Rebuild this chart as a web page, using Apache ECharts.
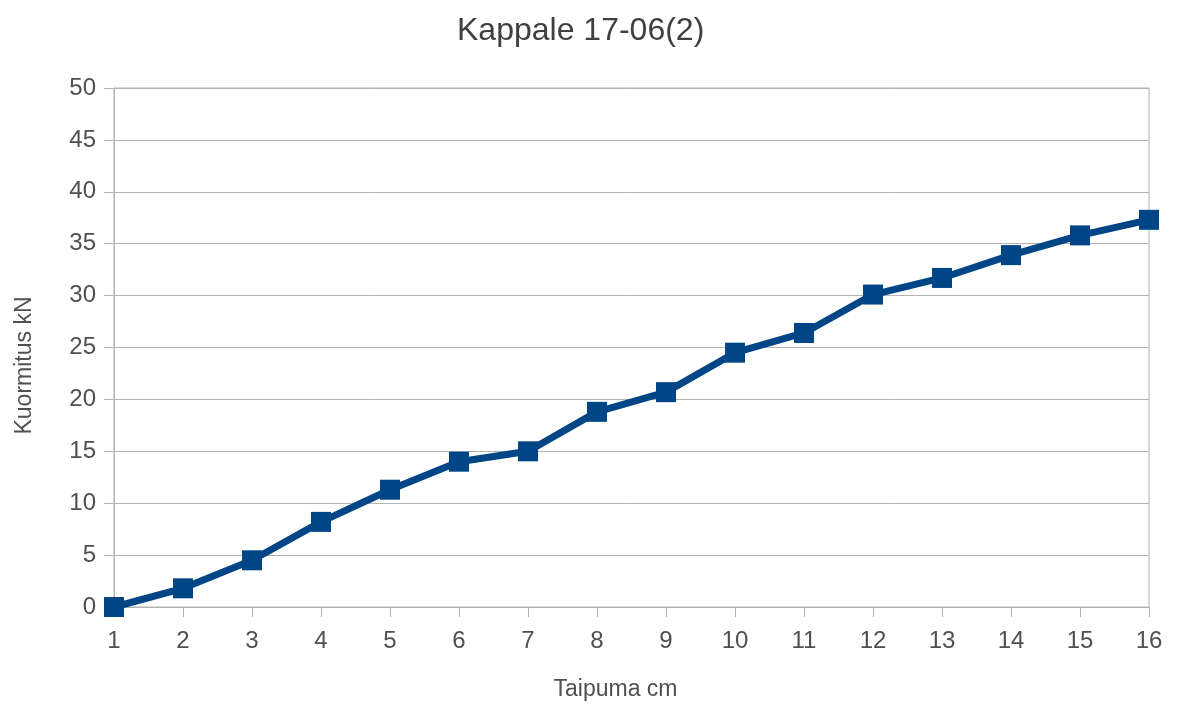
<!DOCTYPE html>
<html>
<head>
<meta charset="utf-8">
<script src="https://cdn.jsdelivr.net/npm/echarts@6/dist/echarts.min.js"></script>
<style>
  html, body { margin: 0; padding: 0; background: #fff; }
  #chart { width: 1181px; height: 709px; }
</style>
</head>
<body>
<div id="chart"></div>
<script>
// Deflection steps (cm) and measured load (kN)
const taipuma = ['1', '2', '3', '4', '5', '6', '7', '8', '9', '10', '11', '12', '13', '14', '15', '16'];
const kuormitus = [0, 1.8, 4.5, 8.2, 11.3, 14.0, 15.0, 18.8, 20.7, 24.5, 26.4, 30.1, 31.7, 33.9, 35.8, 37.3];

const font = '"Liberation Sans", Arial, sans-serif';
const gridGray = '#b3b3b3';
const textGray = '#505050';

const chart = echarts.init(document.getElementById('chart'));
chart.setOption({
  backgroundColor: '#ffffff',
  animation: false,
  title: {
    text: 'Kappale 17-06(2)',
    left: 452,
    top: 10,
    textStyle: { fontFamily: font, fontSize: 32, fontWeight: 'normal', color: '#404040' }
  },
  grid: {
    left: 114, right: 32, top: 88, bottom: 102,
    show: true, borderColor: gridGray, borderWidth: 1, backgroundColor: 'transparent'
  },
  xAxis: {
    type: 'category',
    data: taipuma,
    boundaryGap: false,
    name: 'Taipuma cm',
    nameLocation: 'middle',
    nameGap: 71,
    nameTextStyle: { fontFamily: font, fontSize: 23, color: textGray, padding: [0, 32, 0, 0] },
    axisLine: { lineStyle: { color: gridGray, width: 1 } },
    axisTick: { show: true, inside: false, length: 10, lineStyle: { color: gridGray } },
    axisLabel: { fontFamily: font, fontSize: 24, color: textGray, margin: 22 },
    splitLine: { show: false }
  },
  yAxis: {
    type: 'value',
    min: 0, max: 50, interval: 5,
    name: 'Kuormitus kN',
    nameLocation: 'middle',
    nameGap: 78,
    nameRotate: 90,
    nameTextStyle: { fontFamily: font, fontSize: 23, color: textGray, padding: [0, 36, 0, 0] },
    axisLine: { show: true, lineStyle: { color: gridGray, width: 1 } },
    axisTick: { show: true, inside: false, length: 10, lineStyle: { color: gridGray } },
    axisLabel: { fontFamily: font, fontSize: 24, color: textGray, margin: 18 },
    splitLine: { show: true, lineStyle: { color: gridGray, width: 1 } }
  },
  series: [{
    type: 'line',
    data: kuormitus,
    symbol: 'rect',
    symbolSize: 20,
    lineStyle: { color: '#004586', width: 7 },
    itemStyle: { color: '#004586' },
    clip: false
  }]
});
</script>
</body>
</html>
